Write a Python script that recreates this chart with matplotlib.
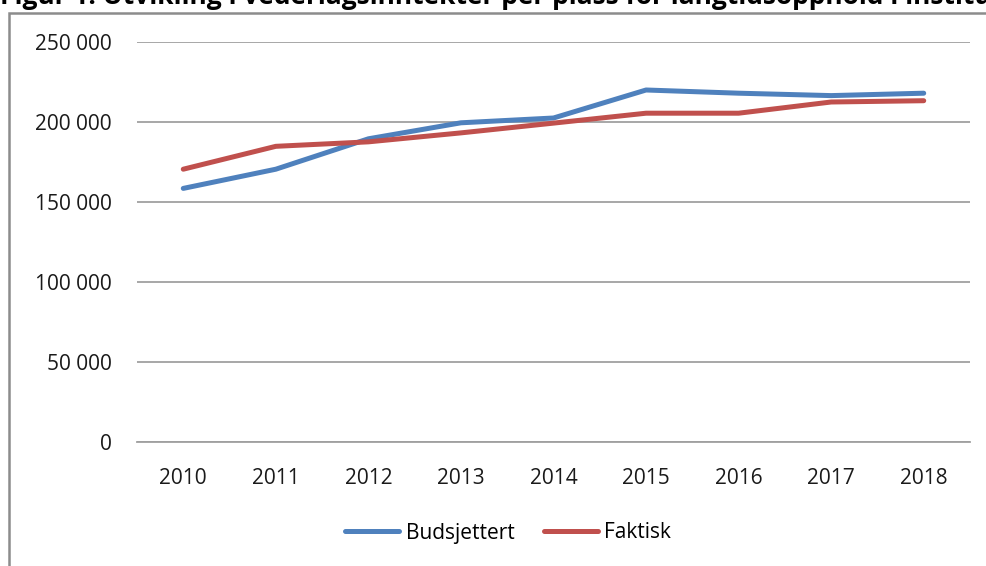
import matplotlib
matplotlib.use("Agg")
import matplotlib.pyplot as plt
from matplotlib.patches import Rectangle

years = ["2010", "2011", "2012", "2013", "2014", "2015", "2016", "2017", "2018"]
budsjettert = [158500, 170500, 189500, 199500, 202500, 220000, 218000, 216500, 218000]
faktisk = [170500, 184800, 187600, 193200, 199300, 205500, 205500, 212500, 213300]
yticks = [0, 50000, 100000, 150000, 200000, 250000]
ytick_labels = ["0", "50 000", "100 000", "150 000", "200 000", "250 000"]
title = "Figur 1. Utvikling i vederlagsinntekter per plass for langtidsopphold i institusjon"

plt.rcParams['font.family'] = ['Open Sans', 'DejaVu Sans']

fig = plt.figure(figsize=(9.87, 5.66), dpi=100)
W, H = 987, 566
ax = fig.add_axes([137 / W, 1 - 442 / H, (970 - 137) / W, (442 - 42) / H])

x = list(range(len(years)))
ax.plot(x, budsjettert, color="#4F81BD", lw=3.6, label="Budsjettert", solid_capstyle="round")
ax.plot(x, faktisk, color="#C0504D", lw=3.6, label="Faktisk", solid_capstyle="round")

ax.set_xlim(-0.5, len(years) - 0.5)
ax.set_ylim(0, 250000)
ax.set_yticks(yticks)
ax.set_yticklabels(ytick_labels)
ax.set_xticks(x)
ax.set_xticklabels(years)
ax.grid(axis="y", color="#A0A0A0", lw=1.3)
ax.set_axisbelow(True)
for s in ["top", "right", "left"]:
    ax.spines[s].set_visible(False)
ax.spines["bottom"].set_color("#A0A0A0")
ax.spines["bottom"].set_linewidth(1.3)
ax.tick_params(axis="both", length=0, labelsize=15, colors="#1a1a1a")
ax.tick_params(axis="y", pad=18)
ax.tick_params(axis="x", pad=19)

leg = fig.legend(loc="center", bbox_to_anchor=(508 / W, 1 - 533 / H), ncol=2,
                 frameon=False, fontsize=15, handlelength=2.6, handletextpad=0.3,
                 columnspacing=1.4)

fig.patches.append(Rectangle((9 / W, -0.1), 1.2, 1 - 13 / H + 0.1, transform=fig.transFigure,
                             fill=False, edgecolor="#8C8C8C", lw=1.8))

fig.text(0, 1 - 4 / H, title, fontsize=19, fontweight="bold", va="baseline", ha="left")

fig.savefig("out.png", dpi=100)
